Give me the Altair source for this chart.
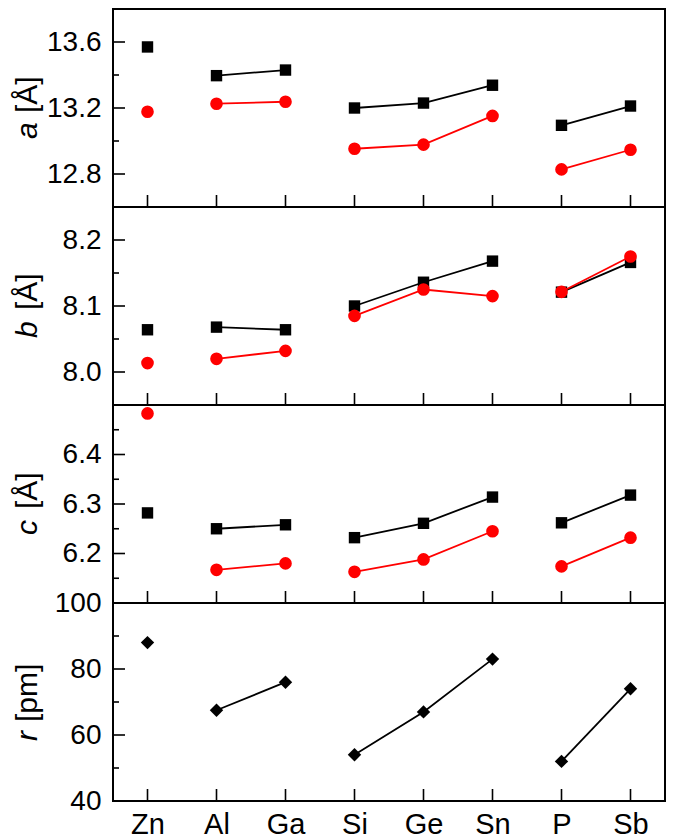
import altair as alt
import pandas as pd

FONT = "Liberation Sans"
W, H = 552, 198

cats = ["Zn", "Al", "Ga", "Si", "Ge", "Sn", "P", "Sb"]
groups = ["g0", "g1", "g1", "g2", "g2", "g2", "g3", "g3"]

a_black = [13.570, 13.396, 13.430, 13.200, 13.230, 13.338, 13.095, 13.212]
a_red = [13.177, 13.226, 13.238, 12.953, 12.978, 13.152, 12.828, 12.947]
b_black = [8.064, 8.068, 8.064, 8.100, 8.136, 8.168, 8.121, 8.166]
b_red = [8.0135, 8.020, 8.032, 8.085, 8.125, 8.115, 8.1215, 8.175]
c_black = [6.282, 6.250, 6.258, 6.232, 6.261, 6.314, 6.262, 6.318]
c_red = [6.483, 6.167, 6.180, 6.163, 6.188, 6.245, 6.174, 6.232]
r_vals = [88, 67.5, 76, 54, 67, 83, 52, 74]

a_domain = [12.6, 13.8]
a_major = [12.8, 13.2, 13.6]
a_minor = [13.0, 13.4]
b_domain = [7.95, 8.25]
b_major = [8.0, 8.1, 8.2]
b_minor = [8.05, 8.15]
c_domain = [6.1, 6.5]
c_major = [6.2, 6.3, 6.4]
c_minor = [6.15, 6.25, 6.35, 6.45]
r_domain = [40, 100]
r_major = [40, 60, 80, 100]
r_minor = [50, 70, 90]


def series_df(vals):
    return pd.DataFrame({"cat": cats, "grp": groups, "idx": list(range(len(cats))), "val": vals})


def panel(series, domain, major, minor, fmt, letter, unit, letter_off, unit_off, show_x):
    xaxis = None
    if show_x:
        xaxis = alt.Axis(title=None, ticks=False, tickSize=0, domain=False, grid=False,
                         labelAngle=0, labelPadding=9, labelFont=FONT, labelFontSize=29,
                         labelColor="black")
    xenc = alt.X("cat:N", sort=cats,
                 scale=alt.Scale(type="point", domain=cats, padding=0.5),
                 axis=xaxis)
    yenc = alt.Y("val:Q", scale=alt.Scale(domain=domain, nice=False, zero=False),
                 axis=alt.Axis(values=major, format=fmt, ticks=False, tickSize=0,
                               domain=False, grid=False, labelPadding=12,
                               labelFont=FONT, labelFontSize=28, labelColor="black",
                               title=None))
    layers = []
    for vals, color, shape, size in series:
        base = alt.Chart(series_df(vals))
        layers.append(base.mark_line(color=color, strokeWidth=1.8).encode(
            x=xenc, y=yenc, detail="grp:N", order="idx:Q"))
        layers.append(base.mark_point(shape=shape, filled=True, size=size, color=color,
                                      opacity=1).encode(x=xenc, y=yenc))
    # inward y ticks
    layers.append(alt.Chart(pd.DataFrame({"val": major})).mark_rule(
        color="black", strokeWidth=1.6).encode(y=yenc, x=alt.value(0), x2=alt.value(12)))
    layers.append(alt.Chart(pd.DataFrame({"val": minor})).mark_rule(
        color="black", strokeWidth=1.6).encode(y=yenc, x=alt.value(0), x2=alt.value(6)))
    # inward x ticks
    layers.append(alt.Chart(pd.DataFrame({"cat": cats})).mark_rule(
        color="black", strokeWidth=1.6).encode(x=xenc, y=alt.value(H), y2=alt.value(H - 12)))
    # axis title pieces
    layers.append(alt.Chart(pd.DataFrame({"t": [letter]})).mark_text(
        angle=270, align="left", baseline="alphabetic", font=FONT, fontSize=30,
        fontStyle="italic", color="black").encode(
        text="t:N", x=alt.value(-76), y=alt.value(H / 2 + letter_off)))
    layers.append(alt.Chart(pd.DataFrame({"t": [unit]})).mark_text(
        angle=270, align="left", baseline="alphabetic", font=FONT, fontSize=30,
        color="black").encode(
        text="t:N", x=alt.value(-76), y=alt.value(H / 2 + unit_off)))
    return alt.layer(*layers).properties(width=W, height=H)


pa = panel([(a_black, "black", "square", 130), (a_red, "#ff0000", "circle", 160)],
           a_domain, a_major, a_minor, ".1f", "a", "[Å]", 31, 5, False)
pb = panel([(b_black, "black", "square", 130), (b_red, "#ff0000", "circle", 160)],
           b_domain, b_major, b_minor, ".1f", "b", "[Å]", 32, 4, False)
pc = panel([(c_black, "black", "square", 130), (c_red, "#ff0000", "circle", 160)],
           c_domain, c_major, c_minor, ".1f", "c", "[Å]", 31, 5, False)
pr = panel([(r_vals, "black", "diamond", 180)],
           r_domain, r_major, r_minor, "d", "r", "[pm]", 39, 20, True)

chart = alt.vconcat(pa, pb, pc, pr, spacing=0, bounds="flush").resolve_scale(
    y="independent").configure_view(stroke="black", strokeWidth=2).properties(
    padding={"left": 4, "top": 0, "right": 0, "bottom": 0})

chart.save("out.html", embed_options={"renderer": "svg", "actions": False})
